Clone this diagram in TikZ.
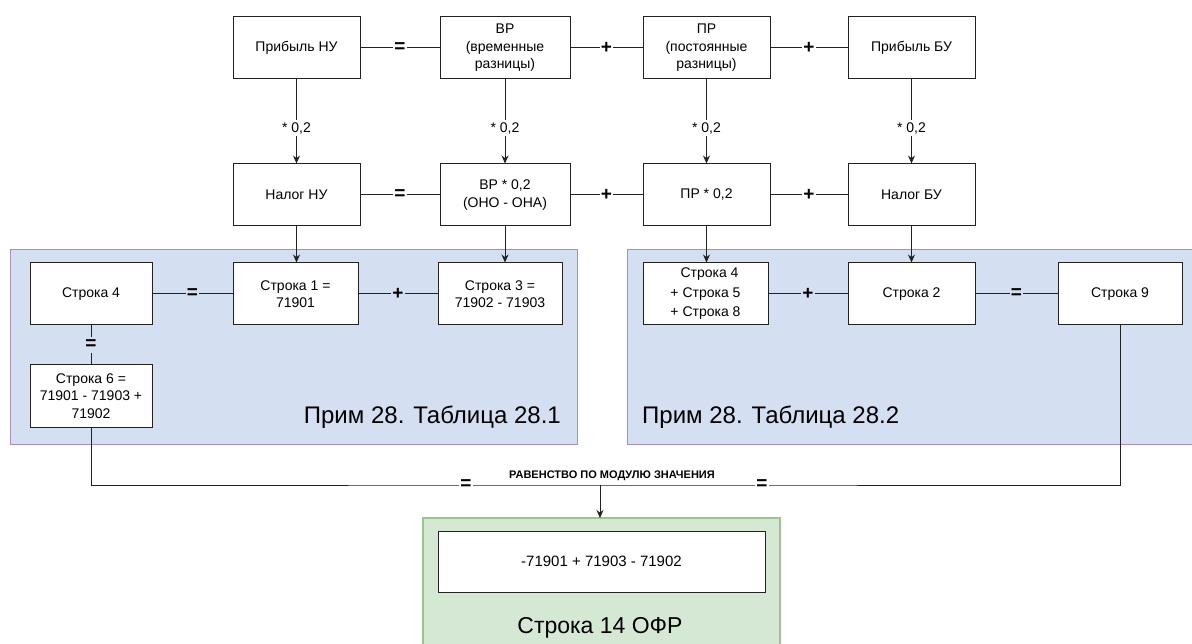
\documentclass[tikz,border=0pt]{standalone}
\usepackage{fontspec}
\setmainfont{Liberation Sans}
\usetikzlibrary{arrows.meta}
\definecolor{grpblue}{HTML}{D4DFF2}
\definecolor{grpborder}{HTML}{A88DC0}
\definecolor{grpgreen}{HTML}{D5E8D4}
\definecolor{grpgreenb}{HTML}{9BC58C}
\definecolor{ln}{HTML}{222222}
\tikzset{
  box/.style={draw=ln, line width=1pt, fill=white, minimum width=127pt, minimum height=62pt,
    align=center, inner sep=2pt, font=\fontsize{14}{17.5}\selectfont},
  op/.style={font=\fontsize{19}{19}\selectfont\bfseries, inner sep=1pt},
  lbl/.style={font=\fontsize{14}{17}\selectfont, fill=white, inner sep=2pt},
  conn/.style={draw=ln, line width=1pt},
  arr/.style={conn, -{Stealth[length=8pt,width=7pt]}},
  title/.style={font=\fontsize{24}{28}\selectfont, inner sep=0pt}
}
\begin{document}
\begin{tikzpicture}[x=1pt,y=-1pt]
\useasboundingbox (0,0) rectangle (1192,644);
% group containers
\draw[fill=grpblue, draw=grpborder, line width=0.9pt] (10,249) rectangle (577,444);
\draw[fill=grpblue, draw=grpborder, line width=0.9pt] (627,249) rectangle (1196,444);
\draw[fill=grpgreen, draw=grpgreenb, line width=1.2pt] (423,518) rectangle (780,650);
\node[title, anchor=base east] (t1) at (561,423) {Прим 28. Таблица 28.1};
\node[title, anchor=base west] (t2) at (642,423) {Прим 28. Таблица 28.2};
\node[title, font=\fontsize{23}{27}\selectfont, anchor=base] (t3) at (600,633) {Строка 14 ОФР};
% top row
\node[box] (pnu) at (296.5,48) {Прибыль НУ};
\node[box, minimum width=130pt] (vr) at (505,48) {ВР\\(временные\\разницы)};
\node[box] (pr) at (706.5,48) {ПР\\(постоянные\\разницы)};
\node[box] (pbu) at (911.5,48) {Прибыль БУ};
% second row
\node[box] (nnu) at (296.5,195) {Налог НУ};
\node[box, minimum width=130pt] (vr2) at (505,195) {ВР * 0,2\\(ОНО - ОНА)};
\node[box] (pr2) at (706.5,195) {ПР * 0,2};
\node[box] (nbu) at (911.5,195) {Налог БУ};
% left group
\node[box, minimum width=122pt] (s4) at (91,294) {Строка 4};
\node[box, minimum width=125pt] (s1) at (295.5,294) {Строка 1 =\\71901};
\node[box, minimum width=124pt] (s3) at (500,294) {Строка 3 =\\71902 - 71903};
\node[box, minimum width=122pt, font=\fontsize{14}{17.5}\selectfont] (s6) at (91,396) {Строка 6 =\\71901 - 71903 +\\71902};
% right group
\node[box, minimum width=125pt, font=\fontsize{14}{19.5}\selectfont] (s458) at (705.5,294) {\hspace*{8pt}Строка 4\\+ Строка 5\\+ Строка 8};
\node[box] (s2) at (911.5,294) {Строка 2};
\node[box, minimum width=124pt] (s9) at (1120,294) {Строка 9};
% bottom
\node[box, minimum width=327pt, minimum height=61pt, font=\fontsize{15}{18}\selectfont] (res) at (601.5,561.5) {-71901 + 71903 - 71902};
% horizontal relations, top row
\draw[conn] (pnu) -- node[op, fill=white] {=} (vr);
\draw[conn] (vr) -- node[op, fill=white] {+} (pr);
\draw[conn] (pr) -- node[op, fill=white] {+} (pbu);
\draw[conn] (nnu) -- node[op, fill=white] {=} (vr2);
\draw[conn] (vr2) -- node[op, fill=white] {+} (pr2);
\draw[conn] (pr2) -- node[op, fill=white] {+} (nbu);
% vertical arrows
\draw[arr] (pnu) -- node[lbl, pos=0.58] {* 0,2} (nnu);
\draw[arr] (vr) -- node[lbl, pos=0.58] {* 0,2} (vr2);
\draw[arr] (pr) -- node[lbl, pos=0.58] {* 0,2} (pr2);
\draw[arr] (pbu) -- node[lbl, pos=0.58] {* 0,2} (nbu);
\draw[arr] (nnu.south) -- (nnu.south |- s1.north);
\draw[arr] (vr2.south) -- (vr2.south |- s3.north);
\draw[arr] (pr2.south) -- (pr2.south |- s458.north);
\draw[arr] (nbu.south) -- (nbu.south |- s2.north);
% group relations
\draw[conn] (s4) -- node[op, fill=grpblue] {=} (s4 -| s1.west);
\draw[conn] (s1) -- node[op, fill=grpblue] {+} (s3);
\draw[conn] (s4) -- node[op, fill=grpblue, inner sep=3pt] {=} (s6);
\draw[conn] (s458) -- node[op, fill=grpblue] {+} (s2);
\draw[conn] (s2) -- node[op, fill=grpblue] {=} (s9);
% bottom equality
\coordinate (junc) at (600,485);
\coordinate (jl) at (466,485);
\coordinate (jr) at (762,485);
\draw[conn] (s6.south) |- (junc) -| (s9.south);
\node[op, fill=white] (eql) at (jl) {=};
\node[op, fill=white] (eqr) at (jr) {=};
\node[font=\fontsize{11}{12}\selectfont\bfseries, inner sep=0pt] (rav) at (612,476) {РАВЕНСТВО ПО МОДУЛЮ ЗНАЧЕНИЯ};
\draw[arr] (junc) -- (junc |- 0,518);
\end{tikzpicture}
\end{document}
